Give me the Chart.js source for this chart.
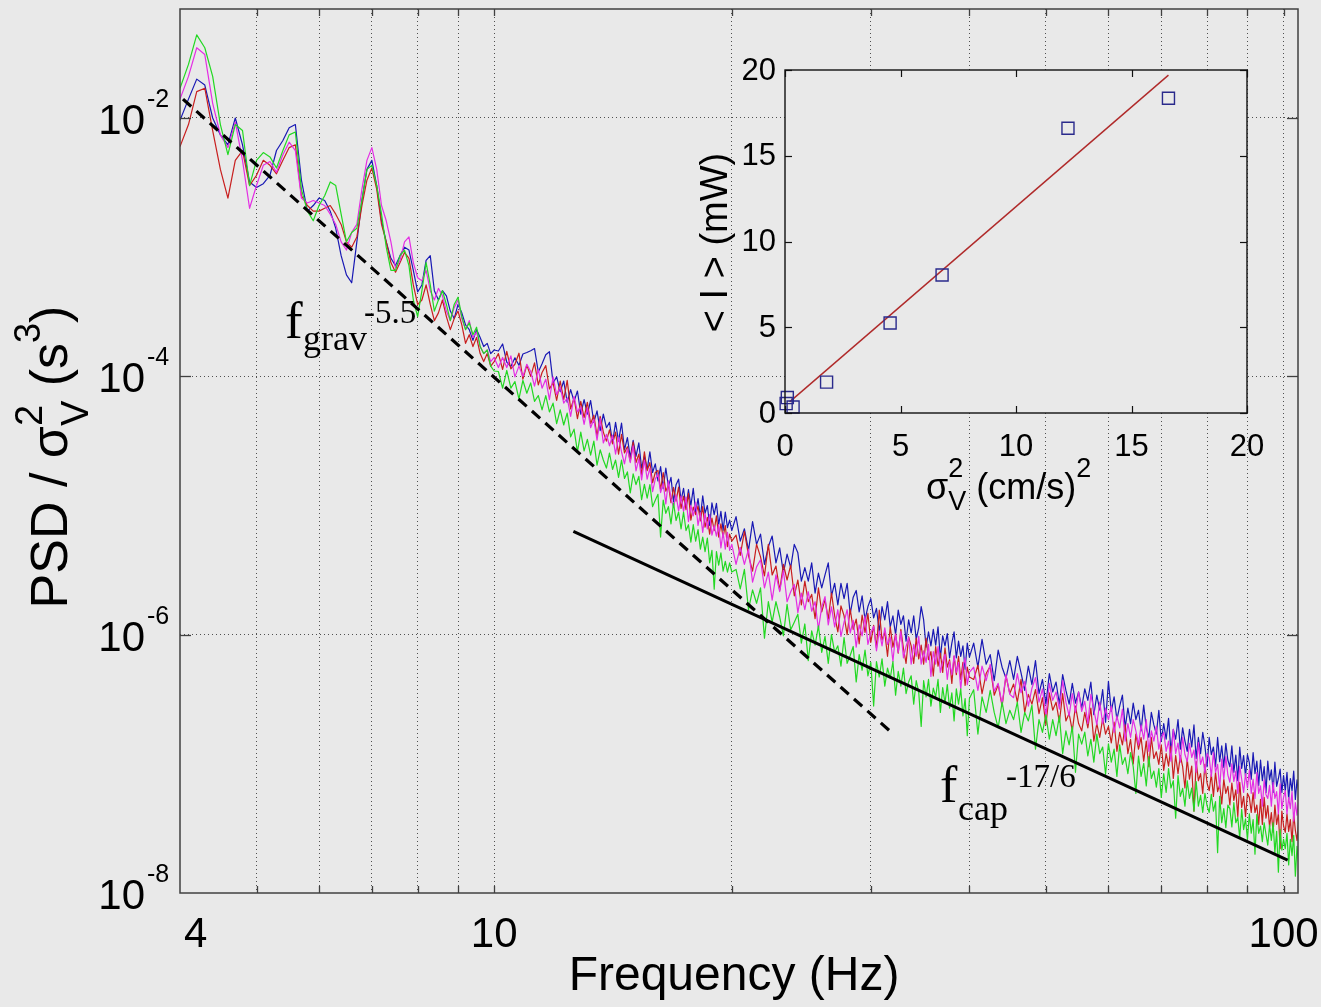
<!DOCTYPE html>
<html>
<head>
<meta charset="utf-8">
<script src="https://cdn.jsdelivr.net/npm/chart.js@4.4.1/dist/chart.umd.min.js"></script>
<style>
  html, body { margin: 0; padding: 0; background: #e9e9e9; }
  #wrap { position: relative; width: 1321px; height: 1007px; overflow: hidden; }
  #mainChart { position: absolute; left: 0; top: 0; }
  #insetChart { position: absolute; left: 680px; top: 40px; }
</style>
</head>
<body>
<div id="wrap">
  <canvas id="mainChart" width="1321" height="1007"></canvas>
  <canvas id="insetChart" width="620" height="480"></canvas>
</div>
<script>
// frequency grid (Hz), finer steps where the spectra are denser on screen
const freqA = [4.0, 4.1, 4.2, 4.3, 4.4, 4.5, 4.6, 4.7, 4.8, 4.9, 5.0, 5.1, 5.2, 5.3, 5.4, 5.5, 5.6, 5.7, 5.8, 5.9,
  6.0, 6.1, 6.2, 6.3, 6.4, 6.5, 6.6, 6.7, 6.8, 6.9, 7.0, 7.1, 7.2, 7.3, 7.4, 7.5, 7.6, 7.7, 7.8, 7.9,
  8.0, 8.1, 8.2, 8.3, 8.4, 8.5, 8.6, 8.7, 8.8, 8.9, 9.0, 9.1, 9.2, 9.3, 9.4, 9.5, 9.6, 9.7, 9.8, 9.9, 10.0];
const freqB = [
  10.125, 10.25, 10.375, 10.5, 10.625, 10.75, 10.875, 11,
  11.125, 11.25, 11.375, 11.5, 11.625, 11.75, 11.875, 12,
  12.125, 12.25, 12.375, 12.5, 12.625, 12.75, 12.875, 13,
  13.125, 13.25, 13.375, 13.5, 13.625, 13.75, 13.875, 14,
  14.125, 14.25, 14.375, 14.5, 14.625, 14.75, 14.875, 15,
  15.125, 15.25, 15.375, 15.5, 15.625, 15.75, 15.875, 16,
  16.125, 16.25, 16.375, 16.5, 16.625, 16.75, 16.875, 17,
  17.125, 17.25, 17.375, 17.5, 17.625, 17.75, 17.875, 18,
  18.125, 18.25, 18.375, 18.5, 18.625, 18.75, 18.875, 19,
  19.125, 19.25, 19.375, 19.5, 19.625, 19.75, 19.875, 20];
const freqC = [20.25, 20.5, 20.75, 21, 21.25, 21.5, 21.75, 22, 22.25, 22.5, 22.75, 23, 23.25, 23.5, 23.75, 24,
  24.25, 24.5, 24.75, 25, 25.25, 25.5, 25.75, 26, 26.25, 26.5, 26.75, 27, 27.25, 27.5, 27.75, 28,
  28.25, 28.5, 28.75, 29, 29.25, 29.5, 29.75, 30, 30.25, 30.5, 30.75, 31, 31.25, 31.5, 31.75, 32,
  32.25, 32.5, 32.75, 33, 33.25, 33.5, 33.75, 34, 34.25, 34.5, 34.75, 35, 35.25, 35.5, 35.75, 36,
  36.25, 36.5, 36.75, 37, 37.25, 37.5, 37.75, 38, 38.25, 38.5, 38.75, 39, 39.25, 39.5, 39.75, 40];
const freqD = [
  40.5, 41, 41.5, 42, 42.5, 43, 43.5, 44, 44.5, 45,
  45.5, 46, 46.5, 47, 47.5, 48, 48.5, 49, 49.5, 50,
  50.5, 51, 51.5, 52, 52.5, 53, 53.5, 54, 54.5, 55,
  55.5, 56, 56.5, 57, 57.5, 58, 58.5, 59, 59.5, 60,
  60.5, 61, 61.5, 62, 62.5, 63, 63.5, 64, 64.5, 65,
  65.5, 66, 66.5, 67, 67.5, 68, 68.5, 69, 69.5, 70,
  70.5, 71, 71.5, 72, 72.5, 73, 73.5, 74, 74.5, 75,
  75.5, 76, 76.5, 77, 77.5, 78, 78.5, 79, 79.5, 80,
  80.5, 81, 81.5, 82, 82.5, 83, 83.5, 84, 84.5, 85,
  85.5, 86, 86.5, 87, 87.5, 88, 88.5, 89, 89.5, 90,
  90.5, 91, 91.5, 92, 92.5, 93, 93.5, 94, 94.5, 95,
  95.5, 96, 96.5, 97, 97.5, 98, 98.5, 99, 99.5, 100,
  100.5, 101, 101.5, 102, 102.5, 103, 103.5, 104, 104.5, 105];
const freqHz = freqA.concat(freqB, freqC, freqD);

// PSD / sigma_V^2 (s^3)
const psdBlue = [
  9.6e-3, 1.4e-2, 2.0e-2, 1.8e-2, 1.0e-2, 7.4e-3, 6.2e-3, 1.0e-2, 6.2e-3, 3.2e-3,
  2.9e-3, 3.1e-3, 3.6e-3, 5.6e-3, 6.7e-3, 8.4e-3, 8.9e-3, 3.3e-3, 1.9e-3, 2.1e-3,
  2.4e-3, 2.3e-3, 1.9e-3, 1.4e-3, 8.6e-4, 6.1e-4, 5.3e-4, 1.1e-3, 2.3e-3, 4.0e-3,
  4.7e-3, 3.0e-3, 1.6e-3, 1.1e-3, 8.2e-4, 7.2e-4, 8.6e-4, 1.0e-3, 9.5e-4, 6.6e-4,
  4.5e-4, 5.1e-4, 7.9e-4, 8.6e-4, 4.6e-4, 3.9e-4, 4.6e-4, 4.2e-4, 3.2e-4, 2.8e-4,
  3.6e-4, 3.1e-4, 2.5e-4, 2.3e-4, 1.9e-4, 2.3e-4, 2.0e-4, 1.7e-4, 1.8e-4, 1.5e-4,
  1.6e-4,
  1.57e-4, 1.78e-4, 1.29e-4, 1.19e-4, 1.39e-4, 1.22e-4, 1.49e-4, 1.53e-4,
  1.58e-4, 1.64e-4, 1.08e-4, 1.25e-4, 1.47e-4, 1.55e-4, 8.9e-5, 9.9e-5,
  7.6e-5, 9.2e-5, 6.3e-5, 7.9e-5, 6.4e-5, 7.7e-5, 5.1e-5, 6.6e-5,
  5.1e-5, 6.5e-5, 4.4e-5, 5.4e-5, 3.8e-5, 5.1e-5, 4.0e-5, 4.4e-5,
  3.05e-5, 4.4e-5, 3.15e-5, 4.35e-5, 2.7e-5, 3.35e-5, 2.35e-5, 3.2e-5,
  2.4e-5, 3.05e-5, 1.95e-5, 2.4e-5, 1.9e-5, 2.6e-5, 1.8e-5, 2.1e-5,
  1.55e-5, 2.0e-5, 1.35e-5, 1.95e-5, 1.4e-5, 1.65e-5, 1.07e-5, 1.45e-5,
  1.6e-5, 1.09e-5, 1.36e-5, 9.6e-6, 1.33e-5, 1.0e-5, 1.36e-5, 8.9e-6,
  1.13e-5, 8.1e-6, 1.19e-5, 8.7e-6, 1.0e-5, 7.0e-6, 1.05e-5, 8.5e-6,
  1.04e-5, 7.1e-6, 9.0e-6, 6.4e-6, 8.9e-6, 6.75e-6, 7.7e-6, 6.4e-6,
  8.2e-6, 5.3e-6, 6.6e-6, 4.5e-6, 7.5e-6, 5.0e-6, 6.0e-6, 3.5e-6, 4.8e-6, 5.8e-6,
  3.6e-6, 4.7e-6, 3.0e-6, 4.2e-6, 3.3e-6, 5.0e-6, 4.3e-6, 2.6e-6, 3.3e-6, 2.6e-6,
  3.6e-6, 2.1e-6, 3.0e-6, 2.3e-6, 2.9e-6, 3.6e-6, 2.0e-6, 2.5e-6, 1.7e-6, 2.5e-6,
  1.9e-6, 2.5e-6, 1.45e-6, 1.95e-6, 2.2e-6, 1.5e-6, 2.0e-6, 1.3e-6, 1.65e-6, 1.9e-6,
  1.35e-6, 1.6e-6, 1.05e-6, 1.65e-6, 1.3e-6, 1.8e-6, 1.15e-6, 1.4e-6, 1.0e-6, 1.55e-6,
  1.2e-6, 1.4e-6, 8.9e-7, 1.3e-6, 1.03e-6, 1.4e-6, 9.2e-7, 1.13e-6, 1.65e-6, 1.3e-6,
  8.0e-7, 1.05e-6, 8.2e-7, 1.1e-6, 8.3e-7, 1.15e-6, 6.6e-7, 9.8e-7, 8.2e-7, 1.02e-6,
  6.6e-7, 8.6e-7, 1.05e-6, 6.6e-7, 8.9e-7, 6.8e-7, 8.2e-7, 5.4e-7, 8.6e-7, 6.7e-7,
  8.6e-7, 5.6e-7, 9.2e-7, 5.9e-7, 7.0e-7, 4.4e-7, 7.6e-7, 5.6e-7, 4.6e-7, 6.3e-7,
  4.5e-7, 6.8e-7, 5.05e-7, 3.7e-7, 5.7e-7, 4.1e-7, 6.3e-7, 3.5e-7, 4.5e-7, 2.9e-7,
  5.0e-7, 3.6e-7, 4.3e-7, 2.9e-7, 4.9e-7, 3.7e-7, 2.9e-7, 4.2e-7, 2.95e-7, 3.6e-7,
  2.7e-7, 3.8e-7, 3.1e-7, 4.3e-7, 2.4e-7, 3.4e-7, 2.6e-7, 3.75e-7, 2.1e-7, 4.35e-7,
  2.55e-7, 3.3e-7, 2.2e-7, 2.8e-7, 3.4e-7, 1.9e-7, 2.7e-7, 2.05e-7, 2.95e-7, 2.2e-7,
  2.6e-7, 1.8e-7, 2.85e-7, 1.9e-7, 1.6e-7, 2.5e-7, 2.0e-7, 1.7e-7, 2.6e-7, 1.5e-7,
  2.05e-7, 1.55e-7, 2.25e-7, 1.25e-7, 1.85e-7, 1.55e-7, 2.2e-7, 1.3e-7, 1.9e-7, 1.5e-7,
  1.25e-7, 1.85e-7, 1.35e-7, 2.0e-7, 1.1e-7, 1.6e-7, 1.2e-7, 1.75e-7, 1.37e-7, 9.5e-8,
  1.6e-7, 1.18e-7, 1.35e-7, 9.5e-8, 1.6e-7, 1.04e-7, 1.38e-7, 9.4e-8, 1.44e-7, 1.07e-7,
  9.5e-8, 1.38e-7, 8.6e-8, 1.17e-7, 7.4e-8, 1.35e-7, 9.2e-8, 1.16e-7, 8.0e-8, 1.18e-7,
  1.02e-7, 7.6e-8, 1.22e-7, 8.4e-8, 1.05e-7, 6.8e-8, 1.07e-7, 7.4e-8, 9.5e-8, 6.0e-8,
  1.05e-7, 7.5e-8, 9.0e-8, 6.0e-8, 1.03e-7, 6.7e-8, 7.7e-8, 9.1e-8, 6.0e-8, 8.1e-8,
  6.2e-8, 8.6e-8, 5.3e-8, 7.7e-8, 6.2e-8, 8.8e-8, 5.3e-8, 7.5e-8, 6.1e-8, 6.6e-8
];
const psdRed = [
  6.0e-3, 8.9e-3, 1.6e-2, 1.7e-2, 8.0e-3, 4.0e-3, 2.4e-3, 4.7e-3, 5.6e-3, 3.0e-3,
  3.6e-3, 4.7e-3, 4.3e-3, 3.7e-3, 4.7e-3, 5.9e-3, 6.2e-3, 2.5e-3, 2.1e-3, 1.9e-3,
  1.9e-3, 2.0e-3, 2.1e-3, 1.8e-3, 1.5e-3, 1.1e-3, 1.0e-3, 1.2e-3, 2.1e-3, 3.3e-3,
  4.1e-3, 2.8e-3, 1.5e-3, 1.1e-3, 7.6e-4, 6.4e-4, 7.6e-4, 9.1e-4, 8.2e-4, 5.1e-4,
  3.6e-4, 3.9e-4, 5.1e-4, 3.6e-4, 2.7e-4, 3.1e-4, 3.9e-4, 2.9e-4, 2.3e-4, 2.8e-4,
  3.2e-4, 2.5e-4, 1.8e-4, 2.1e-4, 1.7e-4, 2.0e-4, 1.5e-4, 1.3e-4, 1.5e-4, 1.2e-4,
  1.3e-4,
  1.5e-4, 1.13e-4, 1.56e-4, 1.14e-4, 1.24e-4, 1.51e-4, 9.5e-5, 1.22e-4,
  1.0e-4, 1.27e-4, 8.6e-5, 1.07e-4, 1.21e-4, 8.0e-5, 8.9e-5, 6.5e-5,
  9.2e-5, 6.6e-5, 9.3e-5, 5.6e-5, 6.8e-5, 4.7e-5, 6.4e-5, 4.8e-5,
  6.3e-5, 4.3e-5, 5.0e-5, 3.45e-5, 4.9e-5, 3.7e-5, 3.15e-5, 3.85e-5,
  3.0e-5, 3.7e-5, 2.5e-5, 3.55e-5, 2.55e-5, 2.85e-5, 2.2e-5, 3.1e-5,
  2.15e-5, 2.5e-5, 1.73e-5, 2.6e-5, 1.86e-5, 2.15e-5, 1.5e-5, 1.8e-5,
  1.87e-5, 1.33e-5, 1.8e-5, 1.29e-5, 1.44e-5, 1.05e-5, 1.38e-5, 1.08e-5,
  1.39e-5, 9.5e-6, 1.18e-5, 9.3e-6, 1.24e-5, 7.7e-6, 9.7e-6, 8.5e-6,
  9.9e-6, 7.6e-6, 9.8e-6, 6.8e-6, 8.1e-6, 6.0e-6, 8.0e-6, 6.4e-6,
  8.3e-6, 5.7e-6, 7.2e-6, 5.7e-6, 7.0e-6, 4.8e-6, 6.0e-6, 5.3e-6,
  5.9e-6, 4.1e-6, 6.3e-6, 4.1e-6, 3.1e-6, 5.0e-6, 4.0e-6, 2.85e-6, 5.0e-6, 2.9e-6,
  3.4e-6, 2.2e-6, 3.5e-6, 2.65e-6, 3.45e-6, 2.0e-6, 2.65e-6, 1.7e-6, 2.6e-6, 1.8e-6,
  2.05e-6, 1.33e-6, 2.3e-6, 1.5e-6, 1.87e-6, 1.32e-6, 2.1e-6, 1.4e-6, 1.05e-6, 1.67e-6,
  1.4e-6, 1.0e-6, 1.58e-6, 1.1e-6, 1.32e-6, 8.5e-7, 1.42e-6, 1.04e-6, 1.46e-6, 8.7e-7,
  1.18e-6, 7.9e-7, 1.55e-6, 9.1e-7, 1.04e-6, 6.8e-7, 1.15e-6, 8.0e-7, 1.01e-6, 7.2e-7,
  1.1e-6, 7.8e-7, 6.0e-7, 9.6e-7, 8.2e-7, 6.0e-7, 9.4e-7, 6.5e-7, 8.3e-7, 5.9e-7,
  9.4e-7, 6.4e-7, 7.4e-7, 4.8e-7, 8.1e-7, 5.7e-7, 7.2e-7, 5.1e-7, 7.9e-7, 5.6e-7,
  6.4e-7, 4.2e-7, 6.8e-7, 4.9e-7, 6.8e-7, 4.5e-7, 6.1e-7, 4.05e-7, 5.6e-7, 4.7e-7,
  4.5e-7, 5.8e-7, 3.5e-7, 5.0e-7, 5.7e-7, 3.4e-7, 4.1e-7, 2.8e-7, 4.8e-7, 3.5e-7,
  4.15e-7, 3.0e-7, 4.5e-7, 2.5e-7, 3.45e-7, 2.9e-7, 3.75e-7, 2.45e-7, 3.25e-7, 2.0e-7,
  3.55e-7, 2.6e-7, 3.0e-7, 2.1e-7, 3.5e-7, 2.15e-7, 2.45e-7, 1.8e-7, 2.8e-7, 2.05e-7,
  1.8e-7, 2.5e-7, 1.9e-7, 2.7e-7, 1.5e-7, 2.05e-7, 1.6e-7, 2.25e-7, 1.7e-7, 1.95e-7,
  1.45e-7, 2.1e-7, 1.25e-7, 1.75e-7, 1.4e-7, 2.0e-7, 1.2e-7, 1.55e-7, 1.0e-7, 1.7e-7,
  1.3e-7, 1.6e-7, 1.05e-7, 1.5e-7, 9.5e-8, 1.6e-7, 1.1e-7, 1.24e-7, 9.9e-8, 1.4e-7,
  8.9e-8, 1.2e-7, 9.6e-8, 1.37e-7, 7.7e-8, 1.16e-7, 8.4e-8, 1.16e-7, 9.5e-8, 6.5e-8,
  1.09e-7, 7.6e-8, 9.6e-8, 4.3e-8, 1.04e-7, 7.4e-8, 8.4e-8, 5.9e-8, 9.9e-8, 7.1e-8,
  6.2e-8, 8.3e-8, 5.6e-8, 8.6e-8, 6.1e-8, 6.9e-8, 4.9e-8, 7.6e-8, 5.9e-8, 6.7e-8,
  4.8e-8, 7.1e-8, 5.2e-8, 6.3e-8, 3.9e-8, 7.2e-8, 4.6e-8, 5.6e-8, 3.9e-8, 5.9e-8,
  5.5e-8, 4.2e-8, 6.0e-8, 4.2e-8, 4.8e-8, 3.4e-8, 5.3e-8, 3.4e-8, 5.5e-8, 3.8e-8,
  4.75e-8, 3.25e-8, 4.2e-8, 2.95e-8, 4.8e-8, 3.4e-8, 4.1e-8, 2.2e-8, 4.3e-8, 3.3e-8,
  2.95e-8, 4.1e-8, 3.0e-8, 3.7e-8, 2.5e-8, 4.1e-8, 3.05e-8, 2.55e-8, 3.6e-8, 3.1e-8
];
const psdMagenta = [
  1.4e-2, 2.1e-2, 3.5e-2, 3.1e-2, 1.3e-2, 7.4e-3, 5.9e-3, 9.3e-3, 4.7e-3, 2.0e-3,
  3.0e-3, 4.3e-3, 4.6e-3, 3.8e-3, 5.2e-3, 6.5e-3, 5.6e-3, 2.4e-3, 2.2e-3, 2.3e-3,
  2.2e-3, 2.1e-3, 1.8e-3, 1.5e-3, 1.1e-3, 9.5e-4, 1.3e-3, 1.5e-3, 2.8e-3, 4.7e-3,
  5.9e-3, 4.0e-3, 2.1e-3, 1.6e-3, 1.1e-3, 6.9e-4, 7.9e-4, 1.1e-3, 1.2e-3, 7.6e-4,
  5.8e-4, 5.5e-4, 6.6e-4, 4.6e-4, 3.9e-4, 4.8e-4, 4.2e-4, 3.2e-4, 2.7e-4, 3.4e-4,
  3.9e-4, 2.8e-4, 2.3e-4, 2.7e-4, 2.0e-4, 2.2e-4, 1.7e-4, 1.5e-4, 1.6e-4, 1.3e-4,
  1.4e-4,
  1.17e-4, 1.4e-4, 1.17e-4, 1.44e-4, 9.9e-5, 1.2e-4, 1.0e-4, 1.24e-4,
  1.09e-4, 8.4e-5, 1.13e-4, 8.1e-5, 9.5e-5, 6.6e-5, 9.9e-5, 7.2e-5,
  8.3e-5, 6.2e-5, 6.8e-5, 4.9e-5, 7.0e-5, 5.3e-5, 5.8e-5, 4.25e-5,
  5.7e-5, 4.0e-5, 4.65e-5, 3.2e-5, 4.7e-5, 3.05e-5, 3.55e-5, 2.9e-5,
  3.5e-5, 2.5e-5, 3.4e-5, 2.6e-5, 2.1e-5, 2.75e-5, 2.15e-5, 2.9e-5,
  1.85e-5, 2.3e-5, 1.58e-5, 2.25e-5, 1.6e-5, 1.95e-5, 1.28e-5, 1.6e-5,
  1.75e-5, 1.26e-5, 1.49e-5, 1.03e-5, 1.55e-5, 1.13e-5, 9.7e-6, 1.21e-5,
  9.1e-6, 1.18e-5, 9.0e-6, 1.16e-5, 7.5e-6, 1.0e-5, 8.3e-6, 1.06e-5,
  7.0e-6, 8.8e-6, 6.2e-6, 8.7e-6, 6.6e-6, 8.5e-6, 5.9e-6, 7.0e-6,
  5.8e-6, 7.1e-6, 4.7e-6, 6.2e-6, 4.6e-6, 6.2e-6, 4.5e-6, 5.0e-6,
  3.5e-6, 4.75e-6, 3.5e-6, 4.6e-6, 2.55e-6, 3.35e-6, 3.8e-6, 2.3e-6, 3.05e-6, 1.85e-6,
  2.9e-6, 2.15e-6, 3.15e-6, 1.8e-6, 2.15e-6, 2.45e-6, 1.48e-6, 2.1e-6, 1.56e-6, 2.15e-6,
  1.52e-6, 1.8e-6, 1.1e-6, 1.64e-6, 1.97e-6, 1.19e-6, 1.64e-6, 1.15e-6, 1.56e-6, 9.7e-7,
  1.25e-6, 1.56e-6, 1.03e-6, 1.29e-6, 8.0e-7, 1.19e-6, 9.8e-7, 1.39e-6, 8.4e-7, 1.03e-6,
  1.16e-6, 7.5e-7, 1.07e-6, 8.2e-7, 1.13e-6, 8.4e-7, 9.6e-7, 6.2e-7, 1.01e-6, 7.3e-7,
  1.06e-6, 6.6e-7, 8.1e-7, 9.5e-7, 5.9e-7, 8.4e-7, 6.8e-7, 9.7e-7, 5.9e-7, 7.5e-7,
  6.1e-7, 8.4e-7, 4.75e-7, 7.4e-7, 5.9e-7, 8.1e-7, 5.1e-7, 6.2e-7, 7.05e-7, 4.5e-7,
  6.2e-7, 4.9e-7, 6.9e-7, 5.1e-7, 6.1e-7, 3.8e-7, 5.6e-7, 6.6e-7, 4.1e-7, 5.1e-7,
  5.6e-7, 3.7e-7, 5.7e-7, 4.4e-7, 5.9e-7, 3.65e-7, 4.2e-7, 2.9e-7, 4.9e-7, 3.45e-7,
  3.25e-7, 5.0e-7, 3.55e-7, 4.35e-7, 2.8e-7, 3.85e-7, 4.65e-7, 3.0e-7, 3.8e-7, 2.35e-7,
  4.2e-7, 3.1e-7, 3.6e-7, 2.65e-7, 4.4e-7, 3.0e-7, 2.35e-7, 3.5e-7, 2.5e-7, 3.6e-7,
  2.55e-7, 3.05e-7, 2.05e-7, 3.45e-7, 2.6e-7, 2.0e-7, 3.0e-7, 2.05e-7, 2.7e-7, 2.2e-7,
  2.8e-7, 1.75e-7, 2.35e-7, 1.9e-7, 2.65e-7, 1.5e-7, 2.05e-7, 1.6e-7, 2.2e-7, 1.8e-7,
  1.4e-7, 2.0e-7, 1.55e-7, 2.2e-7, 1.25e-7, 1.8e-7, 1.5e-7, 1.95e-7, 1.3e-7, 1.6e-7,
  1.75e-7, 1.25e-7, 1.5e-7, 1.05e-7, 1.85e-7, 1.2e-7, 1.45e-7, 1.03e-7, 1.6e-7, 1.18e-7,
  1.04e-7, 1.44e-7, 1.12e-7, 1.28e-7, 8.6e-8, 1.46e-7, 9.9e-8, 1.13e-7, 8.5e-8, 1.2e-7,
  1.12e-7, 8.0e-8, 1.22e-7, 8.6e-8, 9.9e-8, 6.5e-8, 1.09e-7, 7.6e-8, 1.14e-7, 8.2e-8,
  7.2e-8, 1.0e-7, 7.3e-8, 8.8e-8, 5.9e-8, 9.6e-8, 7.6e-8, 6.0e-8, 8.4e-8, 6.5e-8,
  8.9e-8, 5.9e-8, 7.6e-8, 5.4e-8, 8.6e-8, 5.9e-8, 6.75e-8, 4.7e-8, 7.5e-8, 5.8e-8,
  5.4e-8, 6.8e-8, 4.7e-8, 7.2e-8, 5.4e-8, 6.1e-8, 4.1e-8, 7.0e-8, 4.5e-8, 5.5e-8,
  6.2e-8, 4.1e-8, 5.5e-8, 4.5e-8, 6.1e-8, 3.6e-8, 5.0e-8, 4.0e-8, 5.4e-8, 4.4e-8
];
const psdGreen = [
  1.7e-2, 2.6e-2, 4.4e-2, 3.5e-2, 2.1e-2, 8.9e-3, 5.2e-3, 8.9e-3, 8.0e-3, 3.0e-3,
  4.7e-3, 5.4e-3, 5.0e-3, 4.1e-3, 5.6e-3, 7.4e-3, 7.8e-3, 2.8e-3, 1.9e-3, 1.6e-3,
  2.1e-3, 2.5e-3, 3.2e-3, 3.0e-3, 1.8e-3, 1.1e-3, 1.3e-3, 1.4e-3, 2.3e-3, 4.0e-3,
  4.3e-3, 3.0e-3, 1.8e-3, 1.0e-3, 6.6e-4, 6.6e-4, 8.6e-4, 9.5e-4, 7.2e-4, 3.9e-4,
  2.9e-4, 4.6e-4, 7.6e-4, 5.1e-4, 3.2e-4, 3.9e-4, 4.6e-4, 3.6e-4, 2.7e-4, 3.6e-4,
  4.1e-4, 2.9e-4, 2.3e-4, 2.6e-4, 2.1e-4, 2.4e-4, 1.7e-4, 1.5e-4, 1.6e-4, 1.2e-4,
  1.1e-4,
  1.09e-4, 8.1e-5, 1.11e-4, 8.1e-5, 9.1e-5, 6.7e-5, 9.3e-5, 7.4e-5,
  8.9e-5, 6.4e-5, 7.1e-5, 5.5e-5, 7.1e-5, 5.3e-5, 6.2e-5, 4.3e-5,
  5.5e-5, 4.2e-5, 5.2e-5, 3.4e-5, 3.9e-5, 2.6e-5, 3.7e-5, 2.65e-5,
  3.25e-5, 2.45e-5, 3.15e-5, 2.05e-5, 2.7e-5, 2.25e-5, 1.95e-5, 2.55e-5,
  1.9e-5, 2.25e-5, 1.65e-5, 2.25e-5, 1.62e-5, 1.82e-5, 1.25e-5, 1.76e-5,
  1.45e-5, 1.68e-5, 1.11e-5, 1.46e-5, 1.14e-5, 1.45e-5, 9.8e-6, 1.1e-5,
  1.22e-5, 5.7e-6, 1.1e-5, 8.7e-6, 9.8e-6, 7.2e-6, 1.05e-5, 7.65e-6,
  8.9e-6, 6.6e-6, 8.9e-6, 6.4e-6, 7.1e-6, 5.2e-6, 7.1e-6, 5.3e-6,
  6.5e-6, 4.6e-6, 5.7e-6, 4.4e-6, 5.6e-6, 3.6e-6, 4.5e-6, 2.25e-6,
  4.4e-6, 3.45e-6, 4.3e-6, 3.1e-6, 3.7e-6, 3.05e-6, 3.6e-6, 3.05e-6,
  3.2e-6, 2.26e-6, 3.2e-6, 1.56e-6, 2.22e-6, 1.75e-6, 2.3e-6, 9.4e-7, 1.8e-6, 1.25e-6,
  1.8e-6, 1.37e-6, 9.8e-7, 1.72e-6, 1.09e-6, 1.25e-6, 1.44e-6, 8.6e-7, 1.21e-6, 6.3e-7,
  1.07e-6, 8.3e-7, 1.17e-6, 7.3e-7, 9.7e-7, 6.0e-7, 1.0e-6, 7.3e-7, 8.2e-7, 5.7e-7,
  9.5e-7, 6.0e-7, 6.9e-7, 8.1e-7, 4.3e-7, 7.0e-7, 5.3e-7, 7.6e-7, 4.8e-7, 6.1e-7,
  2.8e-7, 6.2e-7, 4.7e-7, 6.5e-7, 4.0e-7, 5.5e-7, 4.6e-7, 6.2e-7, 3.4e-7, 5.2e-7,
  4.0e-7, 5.5e-7, 3.5e-7, 4.3e-7, 4.8e-7, 2.9e-7, 4.4e-7, 3.6e-7, 1.95e-7, 4.4e-7,
  3.3e-7, 4.5e-7, 2.8e-7, 3.85e-7, 3.3e-7, 4.5e-7, 2.5e-7, 3.9e-7, 2.95e-7, 4.1e-7,
  2.7e-7, 3.55e-7, 2.15e-7, 3.8e-7, 2.9e-7, 3.8e-7, 2.35e-7, 3.2e-7, 1.65e-7, 3.2e-7,
  3.75e-7, 1.7e-7, 3.3e-7, 2.5e-7, 3.7e-7, 2.5e-7, 1.9e-7, 3.0e-7, 2.05e-7, 2.6e-7,
  2.2e-7, 3.0e-7, 1.75e-7, 2.5e-7, 2.15e-7, 2.85e-7, 1.3e-7, 2.2e-7, 1.75e-7, 2.4e-7,
  1.55e-7, 2.2e-7, 1.65e-7, 2.35e-7, 1.2e-7, 1.8e-7, 1.4e-7, 1.95e-7, 8.6e-8, 1.7e-7,
  1.42e-7, 1.76e-7, 1.15e-7, 1.55e-7, 1.03e-7, 1.7e-7, 1.2e-7, 1.35e-7, 8.3e-8, 1.43e-7,
  1.03e-7, 1.3e-7, 8.0e-8, 1.4e-7, 9.9e-8, 1.12e-7, 8.4e-8, 1.22e-7, 9.5e-8, 5.9e-8,
  1.15e-7, 8.0e-8, 1.01e-7, 6.75e-8, 1.14e-7, 7.7e-8, 8.8e-8, 6.6e-8, 9.2e-8, 5.5e-8,
  8.4e-8, 6.0e-8, 9.2e-8, 6.5e-8, 7.4e-8, 3.8e-8, 8.1e-8, 5.6e-8, 6.45e-8, 4.7e-8,
  7.4e-8, 5.4e-8, 6.5e-8, 4.3e-8, 7.3e-8, 4.7e-8, 5.7e-8, 4.2e-8, 5.9e-8, 4.75e-8,
  4.2e-8, 5.8e-8, 4.3e-8, 5.1e-8, 2.05e-8, 5.6e-8, 3.5e-8, 4.5e-8, 3.2e-8, 4.8e-8,
  4.5e-8, 3.25e-8, 5.0e-8, 3.5e-8, 3.85e-8, 2.65e-8, 4.45e-8, 3.1e-8, 3.75e-8, 2.6e-8,
  4.1e-8, 2.9e-8, 3.7e-8, 2.0e-8, 4.05e-8, 2.9e-8, 3.3e-8, 2.5e-8, 3.5e-8, 2.85e-8,
  2.35e-8, 3.35e-8, 2.55e-8, 3.5e-8, 2.05e-8, 3.0e-8, 1.45e-8, 3.1e-8, 2.15e-8, 2.6e-8,
  2.2e-8, 2.9e-8, 1.65e-8, 2.6e-8, 1.95e-8, 2.8e-8, 1.35e-8, 2.3e-8, 1.7e-8, 2.4e-8
];

// power-law guide lines (end points)
const gravLineHz = [4.035, 31.7];
const gravLinePsd = [1.4e-2, 1.8e-7];
const capLineHz = [12.6, 101.2];
const capLinePsd = [6.3e-6, 1.8e-8];

// main axes
const xGridHz = [5, 6, 7, 8, 9, 10, 20, 30, 40, 50, 60, 70, 80, 90, 100];
const xLabelHz = [4, 10, 100];
const yGridPsd = [1e-6, 1e-4, 1e-2];
const yLabelExp = [-8, -6, -4, -2];

// inset: mean power against velocity variance
const insetVar = [0.1, 0.05, 0.35, 1.8, 4.55, 6.8, 12.25, 16.6];
const insetPower = [0.9, 0.55, 0.35, 1.8, 5.25, 8.05, 16.6, 18.35];
const insetFitVar = [0.2, 16.6];
const insetFitPower = [0.65, 19.7];
const insetTicks = [0, 5, 10, 15, 20];

const SANS = '"Liberation Sans", Arial, Helvetica, sans-serif';
const SERIF = '"Liberation Serif", "Times New Roman", serif';
const BG = '#e9e9e9';

function pairs(xs, ys) {
  return xs.map((x, i) => ({x: x, y: ys[i]}));
}

// draw text pieces one after another; stack:true pieces do not move the pen
function textRuns(ctx, runs, x, y, draw) {
  let cx = x, stackW = 0;
  runs.forEach(r => {
    ctx.font = r.font;
    const w = ctx.measureText(r.t).width;
    if (draw) ctx.fillText(r.t, cx, y + (r.dy || 0));
    if (r.stack) {
      stackW = Math.max(stackW, w);
    } else {
      cx += Math.max(w, stackW);
      stackW = 0;
    }
  });
  return cx - x;
}

function line(ctx, x1, y1, x2, y2) {
  ctx.beginPath();
  ctx.moveTo(x1, y1);
  ctx.lineTo(x2, y2);
  ctx.stroke();
}

const mainDecor = {
  id: 'mainDecor',
  afterDraw(chart) {
    const {ctx, chartArea: a, scales: {x, y}} = chart;
    ctx.save();
    ctx.strokeStyle = '#404040';
    ctx.lineWidth = 1.5;
    ctx.strokeRect(a.left, a.top, a.right - a.left, a.bottom - a.top);

    // ticks pointing inwards on all four sides
    ctx.lineWidth = 1.3;
    xGridHz.forEach(v => {
      const px = Math.round(x.getPixelForValue(v)) + 0.5;
      line(ctx, px, a.bottom, px, a.bottom - 7);
      line(ctx, px, a.top, px, a.top + 7);
    });
    yGridPsd.forEach(v => {
      const py = Math.round(y.getPixelForValue(v)) + 0.5;
      line(ctx, a.left, py, a.left + 11, py);
      line(ctx, a.right, py, a.right - 11, py);
    });

    ctx.fillStyle = '#000';
    ctx.textBaseline = 'alphabetic';
    // y tick labels 10^n
    yLabelExp.forEach(e => {
      const py = y.getPixelForValue(Math.pow(10, e));
      ctx.textAlign = 'right';
      ctx.font = '42px ' + SANS;
      ctx.fillText('10', 145, py + 16);
      ctx.textAlign = 'left';
      ctx.font = '25px ' + SANS;
      ctx.fillText(String(e), 147, py - 11);
    });
    // x tick labels
    ctx.font = '42px ' + SANS;
    xLabelHz.forEach((v, i) => {
      const px = x.getPixelForValue(v);
      if (i === 0) {
        ctx.textAlign = 'left';
        ctx.fillText(String(v), px + 4, 947);
      } else {
        ctx.textAlign = 'center';
        ctx.fillText(String(v), px, 947);
      }
    });

    // axis titles
    ctx.textAlign = 'center';
    ctx.font = '48px ' + SANS;
    ctx.fillText('Frequency (Hz)', 734, 990);

    ctx.textAlign = 'left';
    const big = '52px ' + SANS, small = '38px ' + SANS;
    const yTitle = [
      {t: 'PSD / σ', font: big},
      {t: '2', font: small, dy: -25, stack: true},
      {t: 'V', font: small, dy: 21},
      {t: ' (s', font: big},
      {t: '3', font: '36px ' + SANS, dy: -27},
      {t: ')', font: big}
    ];
    ctx.save();
    ctx.translate(67, 457);
    ctx.rotate(-Math.PI / 2);
    const w = textRuns(ctx, yTitle, 0, 0, false);
    textRuns(ctx, yTitle, -w / 2, 0, true);
    ctx.restore();

    // power-law annotations
    ctx.font = '53px ' + SERIF;
    ctx.fillText('f', 285, 338);
    ctx.font = '36px ' + SERIF;
    ctx.fillText('grav', 303, 350);
    ctx.font = '33px ' + SERIF;
    ctx.fillText('-5.5', 364, 323);

    ctx.font = '52px ' + SERIF;
    ctx.fillText('f', 940, 802);
    ctx.font = '36px ' + SERIF;
    ctx.fillText('cap', 958, 820);
    ctx.font = '33px ' + SERIF;
    ctx.fillText('-17/6', 1006, 787);
    ctx.restore();
  }
};

const insetDecor = {
  id: 'insetDecor',
  beforeDraw(chart) {
    const {ctx, chartArea: a} = chart;
    ctx.save();
    ctx.fillStyle = BG;
    ctx.fillRect(a.left, a.top, a.right - a.left, a.bottom - a.top);
    ctx.restore();
  },
  afterDraw(chart) {
    const {ctx, chartArea: a, scales: {x, y}} = chart;
    ctx.save();
    ctx.strokeStyle = '#111';
    ctx.lineWidth = 1.4;
    ctx.strokeRect(a.left, a.top, a.right - a.left, a.bottom - a.top);
    ctx.lineWidth = 1.2;
    insetTicks.forEach(v => {
      const px = Math.round(x.getPixelForValue(v)) + 0.5;
      const py = Math.round(y.getPixelForValue(v)) + 0.5;
      line(ctx, px, a.bottom, px, a.bottom - 7);
      line(ctx, px, a.top, px, a.top + 7);
      line(ctx, a.left, py, a.left + 7, py);
      line(ctx, a.right, py, a.right - 7, py);
    });

    ctx.fillStyle = '#000';
    ctx.font = '31px ' + SANS;
    ctx.textAlign = 'right';
    ctx.textBaseline = 'middle';
    insetTicks.forEach(v => ctx.fillText(String(v), a.left - 9, y.getPixelForValue(v) + 1));
    ctx.textAlign = 'center';
    ctx.textBaseline = 'alphabetic';
    insetTicks.forEach(v => ctx.fillText(String(v), x.getPixelForValue(v), a.bottom + 43));

    // x title: sigma_V^2 (cm/s)^2
    ctx.textAlign = 'left';
    const f36 = '36px ' + SANS, f27 = '27px ' + SANS;
    textRuns(ctx, [
      {t: 'σ', font: f36},
      {t: '2', font: f27, dy: -22, stack: true},
      {t: 'V', font: f27, dy: 11},
      {t: ' (cm/s)', font: f36},
      {t: '2', font: f27, dy: -22}
    ], a.left + 141, a.bottom + 86, true);

    // y title
    ctx.save();
    ctx.translate(a.left - 58, (a.top + a.bottom) / 2 + 1);
    ctx.rotate(-Math.PI / 2);
    ctx.textAlign = 'center';
    ctx.font = '38px ' + SANS;
    ctx.fillText('< I > (mW)', 0, 0);
    ctx.restore();
    ctx.restore();
  }
};

function spectrum(values, color, order) {
  return {
    data: pairs(freqHz, values),
    borderColor: color,
    borderWidth: 1.2,
    borderJoinStyle: 'round',
    pointRadius: 0,
    tension: 0,
    fill: false,
    clip: 0,
    order: order
  };
}

Chart.defaults.font.family = SANS;

new Chart(document.getElementById('mainChart'), {
  type: 'line',
  data: {
    datasets: [
      spectrum(psdBlue, '#1818b4', 4),
      spectrum(psdRed, '#c81e1e', 3),
      spectrum(psdMagenta, '#e42ee4', 2),
      spectrum(psdGreen, '#22d822', 1),
      {
        data: pairs(gravLineHz, gravLinePsd),
        borderColor: '#000', borderWidth: 3.2, borderDash: [11, 7],
        pointRadius: 0, clip: 0, order: 0
      },
      {
        data: pairs(capLineHz, capLinePsd),
        borderColor: '#000', borderWidth: 3,
        pointRadius: 0, clip: 0, order: 0
      }
    ]
  },
  options: {
    responsive: false,
    animation: false,
    devicePixelRatio: 1,
    events: [],
    layout: {padding: {left: 180, top: 9, right: 23, bottom: 114}},
    plugins: {legend: {display: false}, tooltip: {enabled: false}},
    scales: {
      x: {
        type: 'logarithmic', min: 4, max: 104.3,
        afterBuildTicks: s => { s.ticks = xGridHz.map(v => ({value: v})); },
        afterFit: s => { s.height = 0; },
        ticks: {display: false},
        grid: {color: '#505050', lineWidth: 1, drawTicks: false},
        border: {display: false, dash: [1, 3]}
      },
      y: {
        type: 'logarithmic', min: 1e-8, max: 0.0698,
        afterBuildTicks: s => { s.ticks = yGridPsd.map(v => ({value: v})); },
        afterFit: s => { s.width = 0; },
        ticks: {display: false},
        grid: {color: '#505050', lineWidth: 1, drawTicks: false},
        border: {display: false, dash: [1, 3]}
      }
    }
  },
  plugins: [mainDecor]
});

new Chart(document.getElementById('insetChart'), {
  type: 'scatter',
  data: {
    datasets: [
      {
        type: 'line',
        data: pairs(insetFitVar, insetFitPower),
        borderColor: '#b02a2a', borderWidth: 1.4,
        pointRadius: 0, order: 2
      },
      {
        data: pairs(insetVar, insetPower),
        pointStyle: 'rect', pointRadius: 8.5,
        borderColor: '#2a2a8c', borderWidth: 1.4,
        backgroundColor: 'rgba(0,0,0,0)',
        clip: false, order: 1
      }
    ]
  },
  options: {
    responsive: false,
    animation: false,
    devicePixelRatio: 1,
    events: [],
    layout: {padding: {left: 105, top: 30, right: 53, bottom: 107}},
    plugins: {legend: {display: false}, tooltip: {enabled: false}},
    scales: {
      x: {
        type: 'linear', min: 0, max: 20,
        afterFit: s => { s.height = 0; },
        ticks: {display: false},
        grid: {display: false, drawTicks: false},
        border: {display: false}
      },
      y: {
        type: 'linear', min: 0, max: 20,
        afterFit: s => { s.width = 0; },
        ticks: {display: false},
        grid: {display: false, drawTicks: false},
        border: {display: false}
      }
    }
  },
  plugins: [insetDecor]
});
</script>
</body>
</html>
